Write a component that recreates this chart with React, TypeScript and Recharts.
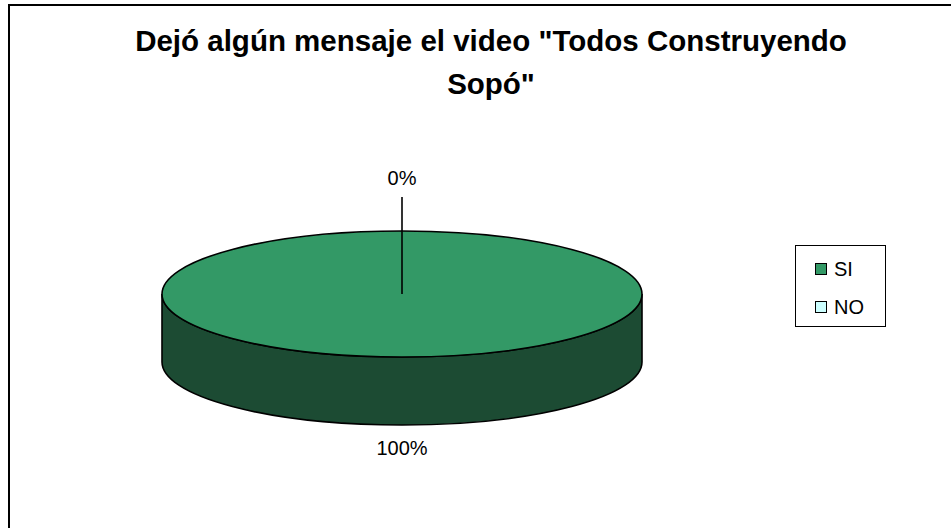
import { PieChart, Pie, Cell, Legend } from 'recharts';

const categories = ['SI', 'NO'];
const values = [100, 0];
const colors = ['#339966', '#ccffff'];
const sideColors = ['#1c4b33', '#7a9999'];
const titleLines = ['Dejó algún mensaje el video "Todos Construyendo', 'Sopó"'];

const data = categories.map((name, i) => ({ name, value: values[i] }));

const TILT = 0.2625;
const DEPTH = 68;
const FONT = '"Liberation Sans", Arial, sans-serif';

const rad = (d: number) => (d * Math.PI) / 180;

function Sector3D(props: any) {
  const { cx, cy, outerRadius, startAngle, endAngle, index } = props;
  const a = Math.min(startAngle, endAngle);
  const b = Math.max(startAngle, endAngle);
  if (b - a < 0.01) return <g />;
  const rx = outerRadius;
  const ry = outerRadius * TILT;
  const pt = (deg: number, dy = 0) => `${cx + rx * Math.cos(rad(deg))},${cy - ry * Math.sin(rad(deg)) + dy}`;

  // front half of the rim, where the side wall is visible
  const sides: [number, number][] = [];
  for (let k = -2; k <= 2; k++) {
    const s = Math.max(a, -180 + 360 * k);
    const e = Math.min(b, 360 * k);
    if (e > s) sides.push([s, e]);
  }

  const full = b - a >= 359.99;
  const topPath = full
    ? null
    : `M${cx},${cy} L${pt(a)} A${rx},${ry} 0 ${b - a > 180 ? 1 : 0} 0 ${pt(b)} Z`;

  return (
    <g>
      {sides.map(([s, e], i) => (
        <path
          key={i}
          d={`M${pt(s)} A${rx},${ry} 0 0 0 ${pt(e)} L${pt(e, DEPTH)} A${rx},${ry} 0 0 1 ${pt(s, DEPTH)} Z`}
          fill={sideColors[index % sideColors.length]}
          stroke="#000"
          strokeWidth={1.6}
        />
      ))}
      {full ? (
        <ellipse cx={cx} cy={cy} rx={rx} ry={ry} fill={colors[index]} stroke="#000" strokeWidth={1.6} />
      ) : (
        <path d={topPath!} fill={colors[index]} stroke="#000" strokeWidth={1.6} />
      )}
    </g>
  );
}

function renderLabel(props: any) {
  const { cx, cy, midAngle, outerRadius, percent } = props;
  const rx = outerRadius;
  const ry = outerRadius * TILT;
  const sin = Math.sin(rad(midAngle));
  const cos = Math.cos(rad(midAngle));
  const text = `${Math.round((percent ?? 0) * 100)}%`;
  if (sin >= 0) {
    // back of the pie: label above, leader line down to the center
    const x = cx + rx * cos;
    const lineTop = cy - ry - 34;
    return (
      <g>
        <line x1={x} y1={lineTop} x2={cx} y2={cy} stroke="#000" strokeWidth={1.6} />
        <text x={x} y={lineTop - 12.5} textAnchor="middle" fontSize={20} fontFamily={FONT} fill="#000">
          {text}
        </text>
      </g>
    );
  }
  const x = cx + rx * cos;
  const y = cy + ry * -sin + DEPTH + 30;
  return (
    <text x={x} y={y} textAnchor="middle" fontSize={20} fontFamily={FONT} fill="#000">
      {text}
    </text>
  );
}

function LegendBox(props: any) {
  const payload = [...(props.payload ?? [])].sort(
    (p: any, q: any) => categories.indexOf(p.value) - categories.indexOf(q.value)
  );
  return (
    <div
      style={{
        width: 89,
        height: 76,
        border: '1.6px solid #000',
        boxSizing: 'content-box',
        fontFamily: FONT,
        fontSize: 20,
        paddingTop: 4,
      }}
    >
      {payload.map((p: any, i: number) => (
        <div key={i} style={{ display: 'flex', alignItems: 'center', height: 38, paddingLeft: 19 }}>
          <span
            style={{
              width: 10,
              height: 10,
              background: colors[categories.indexOf(p.value)] ?? p.color,
              border: '1.5px solid #000',
              marginRight: 7,
            }}
          />
          <span>{p.value}</span>
        </div>
      ))}
    </div>
  );
}

export default function App() {
  return (
    <div style={{ position: 'fixed', left: 0, top: 0, width: 951, height: 528, overflow: 'hidden', background: '#fff' }}>
      <div
        style={{
          position: 'absolute',
          left: 8,
          top: 4,
          width: 1000,
          height: 1000,
          borderTop: '2px solid #000',
          borderLeft: '2px solid #000',
        }}
      />
      <div
        style={{
          position: 'absolute',
          left: 91,
          top: 19,
          width: 800,
          textAlign: 'center',
          fontFamily: FONT,
          fontWeight: 'bold',
          fontSize: 29.5,
          lineHeight: '43px',
          color: '#000',
        }}
      >
        {titleLines[0]}
        <br />
        {titleLines[1]}
      </div>
      <PieChart width={951} height={528} style={{ position: 'absolute', left: 0, top: 0 }}>
        <Pie
          data={data}
          dataKey="value"
          nameKey="name"
          cx={397}
          cy={289}
          outerRadius={240}
          startAngle={90}
          endAngle={-270}
          shape={Sector3D}
          label={renderLabel}
          labelLine={false}
          isAnimationActive={false}
        >
          {data.map((d, i) => (
            <Cell key={d.name} fill={colors[i]} />
          ))}
        </Pie>
        <Legend
          content={<LegendBox />}
          layout="vertical"
          wrapperStyle={{ left: 795, top: 245, width: 92, height: 82 }}
        />
      </PieChart>
    </div>
  );
}
